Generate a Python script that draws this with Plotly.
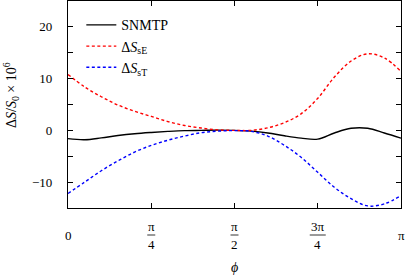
import plotly.graph_objects as go
import numpy as np

PI = np.pi

# phi in units of pi
phi_frac = [0.00, 0.05, 0.10, 0.15, 0.20, 0.25, 0.30, 0.35, 0.40, 0.45, 0.50,
            0.55, 0.60, 0.65, 0.70, 0.75, 0.80, 0.85, 0.90, 0.95, 1.00]
snmtp = [-1.6, -1.8, -1.45, -1.0, -0.65, -0.4, -0.2, -0.05, 0.0, 0.05, 0.0,
         -0.15, -0.5, -1.05, -1.5, -1.7, -0.5, 0.4, 0.4, -0.5, -1.5]
ds_se = [10.8, 8.4, 6.5, 4.9, 3.7, 2.7, 1.7, 0.95, 0.45, 0.1, 0.0,
         0.0, 0.5, 1.5, 3.2, 6.2, 10.3, 13.4, 14.8, 14.0, 11.4]
ds_st = [-12.2, -10.0, -7.8, -5.9, -4.2, -2.9, -1.9, -1.1, -0.45, -0.15, -0.05,
         -0.2, -1.1, -2.9, -5.2, -8.1, -11.0, -13.2, -14.6, -14.2, -12.6]

series_names = ["SNMTP", "Δ<i>S</i><sub>sE</sub>", "Δ<i>S</i><sub>sT</sub>"]

xtick_frac = [0, 0.25, 0.5, 0.75, 1.0]
xtick_num = ["0", "π", "π", "3π", "π"]
xtick_den = ["", "4", "2", "4", ""]

ytick_vals = [-10, 0, 10, 20]
ytick_text = ["−10", "0", "10", "20"]
ytick_minor = [-5, 5, 15]

FONT = "Liberation Serif"
phi = [f * PI for f in phi_frac]

fig = go.Figure()
fig.add_trace(go.Scatter(x=phi, y=snmtp, mode="lines", name=series_names[0],
                         line=dict(color="black", width=1.4, shape="spline", smoothing=1)))
fig.add_trace(go.Scatter(x=phi, y=ds_se, mode="lines", name=series_names[1],
                         line=dict(color="#ff0000", width=1.4, dash="3px,2.5px", shape="spline", smoothing=1)))
fig.add_trace(go.Scatter(x=phi, y=ds_st, mode="lines", name=series_names[2],
                         line=dict(color="#0000ff", width=1.4, dash="3px,2.5px", shape="spline", smoothing=1)))

axis_common = dict(showgrid=False, zeroline=False, showline=True, linecolor="black",
                   linewidth=1.3, mirror="allticks", ticks="inside", tickcolor="black",
                   tickwidth=1.2, ticklen=5, automargin=False)

fig.update_xaxes(range=[0, PI], tickvals=[f * PI for f in xtick_frac],
                 showticklabels=False, **axis_common)
fig.update_yaxes(range=[-15, 25], tickvals=ytick_vals, ticktext=ytick_text,
                 tickfont=dict(family=FONT, size=13, color="black"),
                 ticklabelstandoff=12,
                 minor=dict(tickvals=ytick_minor, ticks="inside", ticklen=5,
                            tickwidth=1.2, tickcolor="black", showgrid=False),
                 **axis_common)

annotations = []
shapes = []
for f, num, den in zip(xtick_frac, xtick_num, xtick_den):
    if den == "":
        annotations.append(dict(x=f * PI, xref="x", y=0, yref="paper", yshift=-27,
                                text=num, showarrow=False, xanchor="center", yanchor="middle",
                                font=dict(family=FONT, size=13, color="black")))
    else:
        annotations.append(dict(x=f * PI, xref="x", y=0, yref="paper", yshift=-18,
                                text=num, showarrow=False, xanchor="center", yanchor="middle",
                                font=dict(family=FONT, size=13, color="black")))
        annotations.append(dict(x=f * PI, xref="x", y=0, yref="paper", yshift=-36,
                                text=den, showarrow=False, xanchor="center", yanchor="middle",
                                font=dict(family=FONT, size=13, color="black")))
        w = 8 * len(num)
        shapes.append(dict(type="line", xref="x", xsizemode="pixel", xanchor=f * PI,
                           x0=-w / 2, x1=w / 2, yref="paper", ysizemode="pixel", yanchor=0,
                           y0=-27, y1=-27, line=dict(color="black", width=0.8)))

annotations.append(dict(x=PI / 2, xref="x", y=0, yref="paper", yshift=-59,
                        text="<i>ϕ</i>", showarrow=False, xanchor="center", yanchor="middle",
                        font=dict(family=FONT, size=14, color="black")))
annotations.append(dict(x=0, xref="paper", xshift=-57, y=0.546, yref="paper",
                        text="Δ<i>S</i>/<i>S</i><sub>0</sub> × 10<sup>6</sup>", textangle=-90,
                        showarrow=False, xanchor="center", yanchor="middle",
                        font=dict(family=FONT, size=14, color="black")))

fig.update_layout(
    width=407, height=276,
    margin=dict(l=68, r=6, t=1, b=68, autoexpand=False),
    plot_bgcolor="white", paper_bgcolor="white",
    annotations=annotations, shapes=shapes,
    legend=dict(x=0.04, y=0.96, xanchor="left", yanchor="top", bgcolor="rgba(0,0,0,0)",
                font=dict(family=FONT, size=14, color="black"), itemwidth=30,
                tracegroupgap=0),
    font=dict(family=FONT, color="black"),
)

fig.write_html("out.html", config={"displayModeBar": False},
               post_script="document.body.style.margin='0';document.body.style.overflow='hidden';")
